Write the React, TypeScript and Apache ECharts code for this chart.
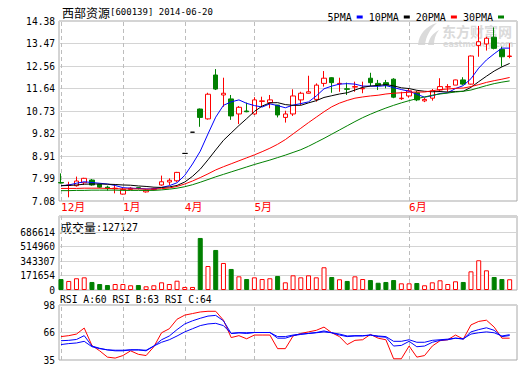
import React, { useEffect, useRef } from "react";
import * as echarts from "echarts";

const stockName = "西部资源";
const stockCode = "600139";
const chartDate = "2014-06-20";
const watermarkCn = "东方财富网";
const watermarkEn = "eastmoney.com";

const monthTickIdx = [0, 8, 16, 25, 45];
const monthLabels = ["12月", "1月", "4月", "5月", "6月"];

const priceTicks = ["7.08", "7.99", "8.91", "9.82", "10.73", "11.64", "12.56", "13.47", "14.38"];
const priceMin = 7.08;
const priceMax = 14.38;
const priceStep = 0.9125;

const volTicks = ["0", "171654", "343307", "514960", "686614"];
const volStep = 171653.5;

const rsiTicks = ["35", "66", "98"];
const rsiMin = 35;
const rsiMax = 98;
const rsiStep = 31.5;

const maNames = ["5PMA", "10PMA", "20PMA", "30PMA"];

const opens = [7.83, 7.71, 7.70, 7.82, 7.93, 7.76, 7.64, 7.58, 7.36, 7.55, 7.62, 7.45, 7.55, 7.73, 7.85, 7.90, 9.01, 9.87, 10.81, 10.41, 12.19, 11.38, 11.22, 10.61, 10.73, 10.61, 11.12, 11.07, 10.97, 10.47, 10.61, 11.18, 11.45, 11.20, 11.85, 12.08, 11.83, 11.63, 11.70, 11.63, 12.06, 11.85, 11.88, 12.02, 11.23, 11.34, 11.47, 11.14, 11.25, 11.58, 11.70, 11.78, 11.99, 11.82, 13.39, 13.45, 13.72, 13.23, 12.94];
const closes = [7.81, 7.73, 7.89, 8.00, 7.73, 7.64, 7.60, 7.60, 7.55, 7.60, 7.60, 7.52, 7.58, 7.86, 7.92, 8.24, 9.01, 9.87, 10.47, 11.41, 11.62, 11.45, 10.53, 10.88, 10.70, 11.18, 11.14, 11.18, 10.57, 10.61, 11.34, 11.45, 11.51, 11.78, 12.06, 11.88, 11.85, 11.61, 11.72, 11.65, 11.88, 11.78, 11.78, 11.29, 11.25, 11.55, 11.18, 11.20, 11.55, 11.72, 11.72, 11.99, 11.82, 12.96, 13.54, 13.68, 13.27, 12.93, 12.96];
const lows = [7.79, 7.23, 7.66, 7.73, 7.70, 7.60, 7.50, 7.39, 7.34, 7.52, 7.55, 7.42, 7.50, 7.70, 7.73, 7.85, 9.01, 9.87, 10.09, 10.38, 11.58, 10.90, 10.37, 10.20, 10.68, 10.57, 10.90, 10.84, 10.47, 10.26, 10.53, 10.97, 11.44, 11.11, 11.72, 11.47, 11.51, 11.38, 11.51, 11.45, 11.74, 11.58, 11.65, 11.25, 11.18, 11.27, 11.13, 11.09, 11.15, 11.51, 11.51, 11.78, 11.78, 11.80, 12.93, 13.18, 13.23, 12.53, 12.87];
const highs = [8.20, 7.86, 8.07, 8.02, 7.97, 7.78, 7.70, 7.73, 7.63, 7.64, 7.64, 7.55, 7.62, 8.11, 8.00, 8.26, 9.01, 9.87, 10.83, 11.47, 12.43, 12.08, 11.38, 10.93, 11.07, 11.29, 11.31, 11.38, 10.98, 10.74, 11.61, 11.51, 12.16, 11.85, 12.35, 12.10, 12.08, 11.88, 11.92, 11.92, 12.28, 11.99, 11.99, 12.06, 11.51, 11.62, 11.55, 11.26, 11.62, 12.06, 11.82, 12.00, 12.10, 12.98, 14.18, 13.74, 14.12, 13.34, 13.48];

const volumes = [130000, 107000, 139000, 150000, 95000, 71000, 59000, 71000, 71000, 56000, 59000, 44000, 56000, 91000, 71000, 110000, 36000, 36000, 616000, 284000, 474000, 320000, 249000, 162000, 130000, 150000, 130000, 139000, 166000, 91000, 174000, 150000, 174000, 150000, 269000, 154000, 127000, 107000, 162000, 130000, 118000, 86000, 95000, 118000, 79000, 79000, 83000, 56000, 91000, 115000, 71000, 103000, 95000, 221000, 352000, 233000, 154000, 130000, 127127];

const ma5 = [7.70, 7.73, 7.80, 7.86, 7.83, 7.80, 7.77, 7.71, 7.62, 7.60, 7.59, 7.57, 7.57, 7.63, 7.70, 7.82, 8.12, 8.58, 9.10, 9.80, 10.48, 10.96, 11.10, 11.18, 11.04, 10.95, 10.89, 11.02, 10.95, 10.86, 10.97, 11.03, 11.10, 11.34, 11.63, 11.74, 11.82, 11.84, 11.82, 11.74, 11.74, 11.73, 11.76, 11.68, 11.60, 11.53, 11.41, 11.29, 11.35, 11.44, 11.47, 11.64, 11.76, 12.04, 12.47, 12.80, 13.05, 13.28, 13.28];
const ma10 = [7.70, 7.71, 7.73, 7.76, 7.77, 7.77, 7.76, 7.75, 7.73, 7.72, 7.69, 7.67, 7.64, 7.63, 7.65, 7.71, 7.85, 8.08, 8.37, 8.75, 9.15, 9.54, 9.84, 10.14, 10.42, 10.71, 10.93, 11.06, 11.07, 10.99, 10.96, 10.96, 11.06, 11.15, 11.28, 11.35, 11.42, 11.47, 11.58, 11.69, 11.74, 11.77, 11.80, 11.75, 11.67, 11.64, 11.57, 11.53, 11.51, 11.52, 11.50, 11.52, 11.53, 11.69, 11.92, 12.14, 12.35, 12.52, 12.66];
const ma20 = [7.59, 7.59, 7.59, 7.60, 7.60, 7.60, 7.59, 7.58, 7.57, 7.57, 7.57, 7.56, 7.56, 7.58, 7.61, 7.67, 7.77, 7.89, 8.03, 8.18, 8.34, 8.47, 8.59, 8.71, 8.83, 8.95, 9.08, 9.22, 9.38, 9.57, 9.80, 10.03, 10.26, 10.48, 10.70, 10.90, 11.05, 11.16, 11.25, 11.30, 11.34, 11.37, 11.42, 11.45, 11.47, 11.49, 11.50, 11.50, 11.55, 11.60, 11.62, 11.65, 11.66, 11.72, 11.80, 11.89, 11.96, 12.02, 12.09];
const ma30 = [7.50, 7.50, 7.51, 7.51, 7.52, 7.52, 7.52, 7.52, 7.51, 7.51, 7.51, 7.51, 7.51, 7.53, 7.56, 7.60, 7.66, 7.74, 7.84, 7.95, 8.06, 8.16, 8.26, 8.36, 8.46, 8.56, 8.65, 8.74, 8.84, 8.94, 9.05, 9.16, 9.30, 9.46, 9.62, 9.79, 9.96, 10.13, 10.30, 10.46, 10.60, 10.73, 10.85, 10.96, 11.06, 11.15, 11.23, 11.30, 11.37, 11.42, 11.46, 11.50, 11.53, 11.58, 11.67, 11.76, 11.84, 11.90, 11.95];

const rsiA = [61.8, 62.9, 64.7, 71.6, 51.6, 45.5, 38.3, 37.2, 40.1, 45.5, 41.5, 40.1, 50.2, 66.2, 70.8, 81.7, 86.4, 88.2, 90.0, 90.8, 90.8, 80.6, 60.7, 62.9, 59.3, 63.6, 63.6, 63.6, 48.0, 48.0, 62.5, 65.4, 67.2, 69.0, 72.7, 66.2, 61.8, 52.7, 57.5, 58.2, 64.3, 60.0, 58.2, 36.4, 36.4, 51.0, 38.3, 40.1, 51.0, 57.1, 58.2, 63.6, 58.9, 75.2, 79.2, 80.6, 72.7, 60.0, 60.0];
const rsiB = [57.1, 57.5, 58.5, 62.9, 51.0, 48.4, 46.6, 45.5, 45.5, 46.6, 46.6, 45.5, 51.0, 58.2, 62.5, 69.8, 76.3, 79.9, 82.8, 85.3, 86.1, 79.9, 65.4, 66.2, 65.4, 66.5, 66.5, 66.5, 60.0, 60.0, 62.9, 64.3, 65.4, 66.5, 68.3, 66.2, 63.6, 61.8, 62.5, 62.5, 63.6, 61.8, 61.1, 51.0, 51.7, 56.4, 50.2, 51.0, 55.3, 57.5, 58.2, 60.0, 58.9, 67.2, 69.8, 71.9, 69.0, 61.8, 63.0];
const rsiC = [52.7, 53.8, 54.5, 56.4, 50.2, 48.0, 46.6, 46.2, 46.2, 46.6, 46.6, 46.2, 51.0, 55.3, 58.2, 62.5, 67.2, 70.8, 74.4, 76.3, 77.0, 74.4, 65.4, 66.2, 66.2, 66.5, 66.5, 66.5, 61.8, 61.8, 63.6, 64.7, 65.4, 66.2, 67.2, 66.2, 64.7, 62.5, 62.9, 62.9, 63.6, 62.5, 61.8, 56.4, 56.4, 58.2, 55.3, 55.3, 57.5, 58.2, 58.9, 60.0, 59.3, 64.7, 66.2, 67.2, 66.2, 62.5, 64.0];

const RED = "#ff0000";
const GREEN = "#008000";
const BLUE = "#0000ff";
const MONO = "'DejaVu Sans Mono', monospace";
const CJK = "'Noto Sans CJK SC', sans-serif";
const GRIDC = "#d4d4d4";
const BORDER = "#a8a8a8";
const DASH = "#bdbdbd";
const WM = "#dadada";

echarts.graphic.registerShape(
  "emlogo",
  echarts.graphic.extendPath(
    "M2 23 C3 12 10 4 21 1 C14 7 10 14 9 23 Z M12 23 C13 16 17 11 23 8 C19 13 18 18 18 23 Z",
    {}
  ) as any
);

function buildOption() {
  const N = closes.length;
  const L = 59;
  const W = 458;
  const volTopY = 216;
  const volMaxY = 232;
  const volZeroY = 290;
  const volAxisMax = (volStep * 4 * (volZeroY - volTopY)) / (volZeroY - volMaxY);

  const up = (i: number) => closes[i] > opens[i] || (closes[i] === opens[i] && i > 0 && closes[i] >= closes[i - 1]);

  const grids = [
    { left: L, top: 21, width: W, height: 180 },
    { left: L, top: volTopY, width: W, height: volZeroY - volTopY },
    { left: L, top: 305, width: W, height: 58 },
  ].map((g) => ({ ...g, show: true, borderColor: BORDER, borderWidth: 1, backgroundColor: "transparent" }));

  const xAxes = [0, 1, 2].map((g) => ({
    type: "value",
    gridIndex: g,
    min: -0.26,
    max: N - 0.05,
    axisLine: { show: false },
    axisTick: { show: false },
    splitLine: { show: false },
    axisLabel:
      g === 0
        ? {
            show: true,
            customValues: monthTickIdx,
            formatter: (v: number) => monthLabels[monthTickIdx.indexOf(Math.round(v))] ?? "",
            color: RED,
            fontSize: 11,
            fontFamily: MONO + ", " + CJK,
            align: "left",
            margin: 1,
            showMinLabel: true,
            showMaxLabel: true,
          }
        : { show: false },
  }));

  const labelStyle = { color: "#000", fontSize: 9.6, fontFamily: MONO, margin: 4 };

  const yAxes = [
    {
      type: "value",
      gridIndex: 0,
      min: priceMin,
      max: priceMax,
      interval: priceStep,
      axisLine: { show: false },
      axisTick: { show: false },
      splitLine: { show: true, lineStyle: { color: GRIDC, width: 1 } },
      axisLabel: { ...labelStyle, formatter: (v: number) => priceTicks[Math.round((v - priceMin) / priceStep)] ?? "" },
    },
    {
      type: "value",
      gridIndex: 1,
      min: 0,
      max: volAxisMax,
      interval: volStep,
      axisLine: { show: false },
      axisTick: { show: false },
      splitLine: { show: true, lineStyle: { color: GRIDC, width: 1 } },
      axisLabel: {
        ...labelStyle,
        formatter: (v: number) => {
          const k = Math.round(v / volStep);
          return Math.abs(v - k * volStep) < 1 && k < volTicks.length ? volTicks[k] : "";
        },
      },
    },
    {
      type: "value",
      gridIndex: 2,
      min: rsiMin,
      max: rsiMax,
      interval: rsiStep,
      axisLine: { show: false },
      axisTick: { show: false },
      splitLine: { show: true, lineStyle: { color: GRIDC, width: 1 } },
      axisLabel: { ...labelStyle, formatter: (v: number) => rsiTicks[Math.round((v - rsiMin) / rsiStep)] ?? "" },
    },
  ];

  const monthLines = {
    silent: true,
    symbol: ["none", "none"],
    label: { show: false },
    z: 1,
    lineStyle: { type: [4, 3], color: DASH, width: 1 },
    emphasis: { disabled: true },
    data: monthTickIdx.map((v) => ({ xAxis: v })),
  };

  const candleData = closes.map((c, i) => {
    const item: any = { value: [i, opens[i], c, lows[i], highs[i]] };
    if (highs[i] === lows[i]) {
      item.itemStyle = { color: "#000", color0: "#000", borderColor: "#000", borderColor0: "#000" };
    }
    return item;
  });

  const maData = [ma5, ma10, ma20, ma30];
  const maColors = [BLUE, "#000000", RED, GREEN];

  const series: any[] = [
    {
      type: "candlestick",
      name: "K",
      xAxisIndex: 0,
      yAxisIndex: 0,
      barWidth: 5,
      encode: { x: 0, y: [1, 2, 3, 4] },
      itemStyle: { color: "#ffffff", color0: GREEN, borderColor: RED, borderColor0: GREEN, borderWidth: 1 },
      data: candleData,
      markLine: monthLines,
    },
    ...maData.map((d, k) => ({
      type: "line",
      name: maNames[k],
      xAxisIndex: 0,
      yAxisIndex: 0,
      symbol: "none",
      color: maColors[k],
      lineStyle: { color: maColors[k], width: 1 },
      data: d.map((v, i) => [i, v]),
      z: 3,
    })),
    {
      type: "bar",
      name: "VOL",
      xAxisIndex: 1,
      yAxisIndex: 1,
      barWidth: 5,
      data: volumes.map((v, i) => ({
        value: [i, v],
        itemStyle: up(i) ? { color: "#ffffff", borderColor: RED, borderWidth: 1 } : { color: GREEN, borderColor: GREEN, borderWidth: 1 },
      })),
      markLine: monthLines,
    },
    ...[rsiA, rsiB, rsiC].map((d, k) => ({
      type: "line",
      name: ["RSI_A", "RSI_B", "RSI_C"][k],
      xAxisIndex: 2,
      yAxisIndex: 2,
      symbol: "none",
      lineStyle: { color: k === 0 ? RED : BLUE, width: 1 },
      data: d.map((v, i) => [i, v]),
      markLine: k === 0 ? monthLines : undefined,
    })),
  ];

  const lastVol = volumes[volumes.length - 1];
  const lastR = [rsiA, rsiB, rsiC].map((a) => Math.round(a[a.length - 1]));

  const graphic = [
    {
      type: "emlogo",
      x: 416,
      y: 22,
      z: 0,
      silent: true,
      style: { fill: WM },
    },
    {
      type: "text",
      x: 442,
      y: 24,
      z: 0,
      silent: true,
      style: { text: watermarkCn, fill: WM, font: "bold 14px " + CJK },
    },
    {
      type: "text",
      x: 443,
      y: 40,
      z: 0,
      silent: true,
      style: { text: watermarkEn, fill: WM, font: "bold 8px 'DejaVu Sans', sans-serif" },
    },
    {
      type: "text",
      x: 62,
      y: 12,
      style: {
        text: `{cn|${stockName}}{en|[${stockCode}] ${chartDate}}`,
        verticalAlign: "middle",
        rich: {
          cn: { fontSize: 12, fontFamily: CJK, color: "#000" },
          en: { fontSize: 9, fontFamily: MONO, color: "#000" },
        },
      },
    },
    {
      type: "text",
      x: 60,
      y: 227,
      style: {
        text: `{cn|成交量}{en|:${lastVol}}`,
        verticalAlign: "middle",
        rich: {
          cn: { fontSize: 12, fontFamily: CJK, color: "#000" },
          en: { fontSize: 10, fontFamily: MONO, color: "#000" },
        },
      },
    },
    {
      type: "text",
      x: 60,
      y: 299,
      style: {
        text: `{a|RSI_A:${lastR[0]}} {b|RSI_B:${lastR[1]}} {c|RSI_C:${lastR[2]}}`,
        verticalAlign: "middle",
        font: "9.7px " + MONO,
        rich: {
          a: { fontSize: 9.7, fontFamily: MONO, color: RED },
          b: { fontSize: 9.7, fontFamily: MONO, color: BLUE },
          c: { fontSize: 9.7, fontFamily: MONO, color: BLUE },
        },
      },
    },
  ];

  return {
    animation: false,
    backgroundColor: "#ffffff",
    grid: grids,
    xAxis: xAxes,
    yAxis: yAxes,
    legend: {
      data: maNames,
      right: 11,
      top: 7,
      align: "right",
      icon: "rect",
      itemWidth: 6,
      itemHeight: 3,
      itemGap: 6,
      selectedMode: false,
      textStyle: { color: "#000", fontSize: 10, fontFamily: MONO },
    },
    series,
    graphic,
  };
}

export default function App() {
  const ref = useRef<HTMLDivElement>(null);
  useEffect(() => {
    const chart = echarts.init(ref.current!, null, { renderer: "svg" });
    chart.setOption(buildOption() as any);
    return () => chart.dispose();
  }, []);
  return <div ref={ref} style={{ position: "fixed", left: 0, top: 0, width: 520, height: 365 }} />;
}
